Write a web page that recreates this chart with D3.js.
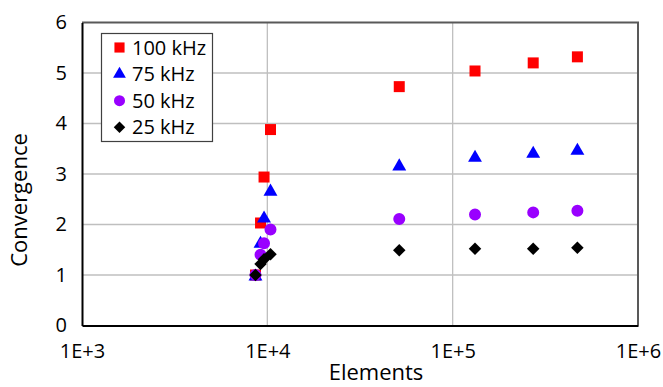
<!DOCTYPE html>
<html>
<head>
<meta charset="utf-8">
<script src="https://cdn.jsdelivr.net/npm/d3@7"></script>
<style>
  body { margin: 0; background: #fff; }
  text { font-family: "Open Sans", "Liberation Sans", sans-serif; fill: #000; }
</style>
</head>
<body>
<div id="chart"></div>
<script>
// mesh sizes (number of elements) shared by every frequency
var elements = [8630, 9190, 9600, 10400, 51500, 132000, 272000, 471000];

// convergence values per frequency
var khz100 = [1.00, 2.03, 2.94, 3.88, 4.73, 5.04, 5.20, 5.32];
var khz75 = [1.00, 1.65, 2.15, 2.68, 3.18, 3.35, 3.43, 3.49];
var khz50 = [1.00, 1.40, 1.63, 1.90, 2.11, 2.20, 2.24, 2.27];
var khz25 = [1.00, 1.22, 1.31, 1.41, 1.49, 1.52, 1.52, 1.54];

var seriesNames = ["100 kHz", "75 kHz", "50 kHz", "25 kHz"];
var xTicks = [1e3, 1e4, 1e5, 1e6];
var yTicks = [0, 1, 2, 3, 4, 5, 6];

var width = 663, height = 387;
// plot area edges (window.top is reserved, so prefixed names)
var plotLeft = 82, plotRight = 638, plotTop = 22.5, plotBottom = 325.5;

var svg = d3.select("#chart")
    .append("svg")
    .attr("width", width)
    .attr("height", height);

var x = d3.scaleLog().domain([1e3, 1e6]).range([plotLeft, plotRight]);
var y = d3.scaleLinear().domain([0, 6]).range([plotBottom, plotTop]);

// gridlines
svg.append("g")
    .selectAll("line")
    .data(yTicks.filter(function (d) { return d > 0 && d < 6; }))
    .enter().append("line")
    .attr("x1", plotLeft).attr("x2", plotRight)
    .attr("y1", function (d) { return y(d); })
    .attr("y2", function (d) { return y(d); })
    .attr("stroke", "#bfbfbf").attr("stroke-width", 1.3);

svg.append("g")
    .selectAll("line")
    .data([1e4, 1e5])
    .enter().append("line")
    .attr("y1", plotTop).attr("y2", plotBottom)
    .attr("x1", function (d) { return x(d); })
    .attr("x2", function (d) { return x(d); })
    .attr("stroke", "#bfbfbf").attr("stroke-width", 1.3);

// frame: grey top/right, black axes
svg.append("path")
    .attr("d", "M" + plotLeft + "," + plotTop + "H" + plotRight + "V" + plotBottom)
    .attr("fill", "none").attr("stroke", "#595959").attr("stroke-width", 2);

var yAxis = svg.append("g")
    .attr("transform", "translate(" + plotLeft + ",0)")
    .call(d3.axisLeft(y).tickValues(yTicks).tickSize(0).tickPadding(15).tickFormat(d3.format("d")));
var xAxis = svg.append("g")
    .attr("transform", "translate(0," + plotBottom + ")")
    .call(d3.axisBottom(x).tickValues(xTicks).tickSize(0).tickPadding(18)
        .tickFormat(function (d) { return "1E+" + Math.round(Math.log10(d)); }));

[yAxis, xAxis].forEach(function (ax) {
    ax.select(".domain").attr("stroke", "#000").attr("stroke-width", 2);
    ax.selectAll("text")
        .style("font-size", "20px")
        .style("font-family", "'Open Sans', sans-serif")
        .attr("fill", "#000");
});

// axis titles
svg.append("text")
    .attr("x", 376).attr("y", 380)
    .attr("text-anchor", "middle")
    .style("font-size", "22px")
    .text("Elements");

svg.append("text")
    .attr("transform", "rotate(-90)")
    .attr("x", -200).attr("y", 27)
    .attr("text-anchor", "middle")
    .style("font-size", "22px")
    .text("Convergence");

// marker styles per series
var markers = [
    { color: "#ff0000", shape: d3.symbolSquare, size: 121, rot: 0 },
    { color: "#0000ff", shape: d3.symbolTriangle, size: 84, rot: 0 },
    { color: "#9900ff", shape: d3.symbolCircle, size: 113, rot: 0 },
    { color: "#000000", shape: d3.symbolSquare, size: 78, rot: 45 }
];

var allSeries = [khz100, khz75, khz50, khz25];

allSeries.forEach(function (vals, i) {
    var m = markers[i];
    svg.append("g")
        .selectAll("path")
        .data(vals)
        .enter().append("path")
        .attr("d", d3.symbol().type(m.shape).size(m.size))
        .attr("transform", function (d, j) {
            var dy = m.shape === d3.symbolTriangle ? 1.5 : 0;
            return "translate(" + x(elements[j]) + "," + (y(d) + dy) + ") rotate(" + m.rot + ")";
        })
        .attr("fill", m.color);
});

// legend
var legend = svg.append("g");
legend.append("rect")
    .attr("x", 101.5).attr("y", 33.5)
    .attr("width", 111).attr("height", 108)
    .attr("fill", "#fff").attr("stroke", "#404040").attr("stroke-width", 1.2);

seriesNames.forEach(function (name, i) {
    var m = markers[i];
    var ry = 47.5 + i * 26.6;
    legend.append("path")
        .attr("d", d3.symbol().type(m.shape).size(m.size * 0.85))
        .attr("transform", "translate(119.5," + ry + ") rotate(" + m.rot + ")")
        .attr("fill", m.color);
    legend.append("text")
        .attr("x", 132).attr("y", ry + 7)
        .style("font-size", "20px")
        .text(name);
});
</script>
</body>
</html>
